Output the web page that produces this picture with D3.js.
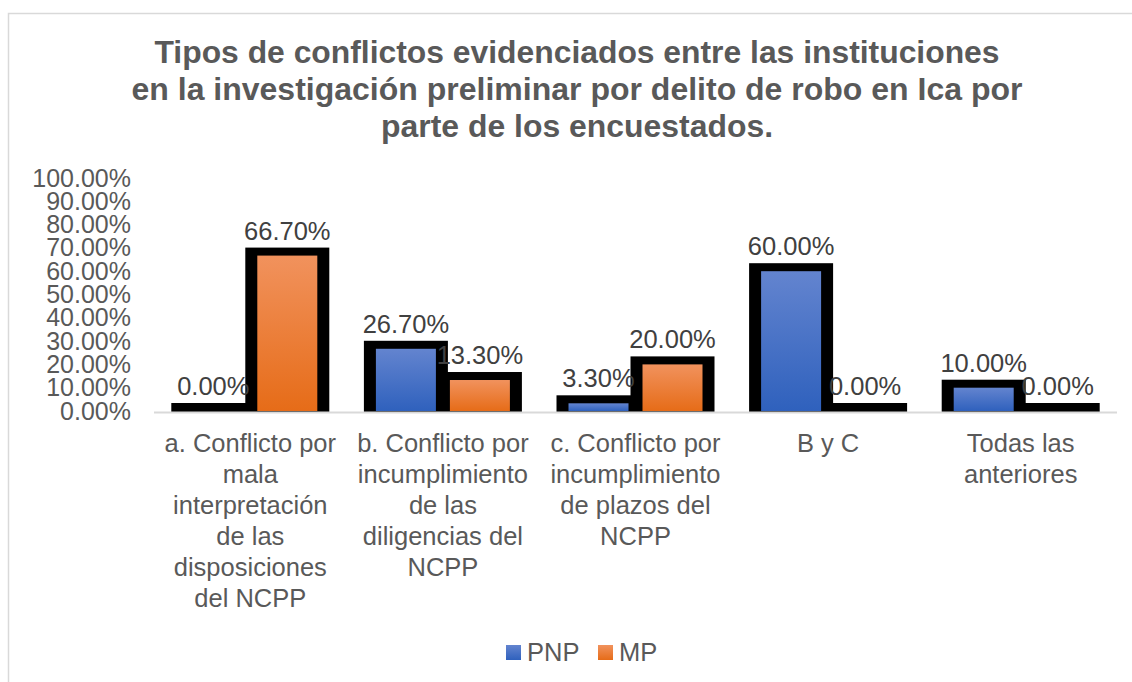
<!DOCTYPE html>
<html>
<head>
<meta charset="utf-8">
<script src="https://cdnjs.cloudflare.com/ajax/libs/d3/7.8.5/d3.min.js"></script>
<style>
  body { margin: 0; background: #fff; }
  text { font-family: "Liberation Sans", Arial, sans-serif; }
</style>
</head>
<body>
<div id="chart"></div>
<script>
// data
const categories = [
  ["a. Conflicto por", "mala", "interpretación", "de las", "disposiciones", "del NCPP"],
  ["b. Conflicto por", "incumplimiento", "de las", "diligencias del", "NCPP"],
  ["c. Conflicto por", "incumplimiento", "de plazos del", "NCPP"],
  ["B y C"],
  ["Todas las", "anteriores"]
];
const series = ["PNP", "MP"];
const pnpValues = [0, 26.7, 3.3, 60, 10];
const mpValues = [66.7, 13.3, 20, 0, 0];
const yTicks = [0, 10, 20, 30, 40, 50, 60, 70, 80, 90, 100];
const titleLines = [
  "Tipos de conflictos evidenciados entre las instituciones",
  "en la investigación preliminar por delito de robo en Ica por",
  "parte de los encuestados."
];

const W = 1132, H = 682;
const svg = d3.select("#chart").append("svg")
  .attr("width", W).attr("height", H);

// gradients
const defs = svg.append("defs");
const grads = { PNP: ["#6384cf", "#2f61bd"], MP: ["#f1925d", "#e66c18"] };
Object.keys(grads).forEach(k => {
  const g = defs.append("linearGradient").attr("id", "g" + k)
    .attr("x1", 0).attr("y1", 0).attr("x2", 0).attr("y2", 1);
  g.append("stop").attr("offset", "0%").attr("stop-color", grads[k][0]);
  g.append("stop").attr("offset", "100%").attr("stop-color", grads[k][1]);
});

// chart border
svg.append("rect")
  .attr("x", 8.5).attr("y", 13.5).attr("width", W).attr("height", H)
  .attr("fill", "none").attr("stroke", "#d9d9d9").attr("stroke-width", 1.5);

// title (condensed bold, as in the original)
const title = svg.append("g");
const titleW = [845, 891, 392];
titleLines.forEach((t, i) => {
  title.append("text")
    .attr("x", 577).attr("y", 63 + i * 37)
    .attr("text-anchor", "middle")
    .attr("font-size", 31).attr("font-weight", "bold")
    .attr("fill", "#595959")
    .attr("textLength", titleW[i]).attr("lengthAdjust", "spacingAndGlyphs")
    .text(t);
});

const idx = d3.range(categories.length);
const x = d3.scaleBand().domain(idx).range([154, 1117]);
const x1 = d3.scaleBand().domain(series).range([0, 134]).paddingInner(14 / 74);
const y = d3.scaleLinear().domain([0, 100]).range([411, 178]);

// y axis labels
const yAxis = svg.append("g").attr("transform", "translate(131,0)")
  .call(d3.axisLeft(y).tickValues(yTicks).tickSize(0).tickPadding(0)
    .tickFormat(d => d.toFixed(2) + "%"));
yAxis.select(".domain").remove();
yAxis.selectAll("text").attr("font-size", 25).attr("fill", "#595959")
  .style("font-family", "'Liberation Sans', Arial, sans-serif");

const rows = [];
idx.forEach(i => {
  rows.push({ i, s: "PNP", v: pnpValues[i] });
  rows.push({ i, s: "MP", v: mpValues[i] });
});
const bx = d => x(d.i) + x.bandwidth() / 2 - 67 + x1(d.s);

// black outlines
svg.append("g").selectAll("rect").data(rows).join("rect")
  .attr("x", d => bx(d) - 12)
  .attr("y", d => y(d.v) - 8)
  .attr("width", x1.bandwidth() + 24)
  .attr("height", d => y(0) + 1 - y(d.v) + 8)
  .attr("fill", "#000");

// coloured fills
svg.append("g").selectAll("rect").data(rows).join("rect")
  .attr("x", d => bx(d))
  .attr("y", d => y(d.v))
  .attr("width", x1.bandwidth())
  .attr("height", d => y(0) - y(d.v))
  .attr("fill", d => "url(#g" + d.s + ")");

// axis line
svg.append("line")
  .attr("x1", 154).attr("x2", 1117)
  .attr("y1", y(0) + 1.5).attr("y2", y(0) + 1.5)
  .attr("stroke", "#d9d9d9").attr("stroke-width", 2);

// data labels
svg.append("g").selectAll("text").data(rows).join("text")
  .attr("x", d => bx(d) + x1.bandwidth() / 2)
  .attr("y", d => y(d.v) - 16)
  .attr("text-anchor", "middle")
  .attr("font-size", 25.5).attr("fill", "#404040")
  .text(d => d.v.toFixed(2) + "%");

// category labels
const cat = svg.append("g");
categories.forEach((lines, i) => {
  const t = cat.append("text")
    .attr("text-anchor", "middle")
    .attr("font-size", 25.5).attr("fill", "#595959");
  lines.forEach((l, j) => {
    t.append("tspan")
      .attr("x", x(i) + x.bandwidth() / 2)
      .attr("y", 452 + j * 31)
      .text(l);
  });
});

// legend
const legX = [506, 598];
const leg = svg.append("g");
series.forEach((s, k) => {
  leg.append("rect").attr("x", legX[k]).attr("y", 645)
    .attr("width", 15).attr("height", 15).attr("fill", "url(#g" + s + ")");
  leg.append("text").attr("x", legX[k] + 21).attr("y", 661)
    .attr("font-size", 25.5).attr("fill", "#595959").text(s);
});
</script>
</body>
</html>
